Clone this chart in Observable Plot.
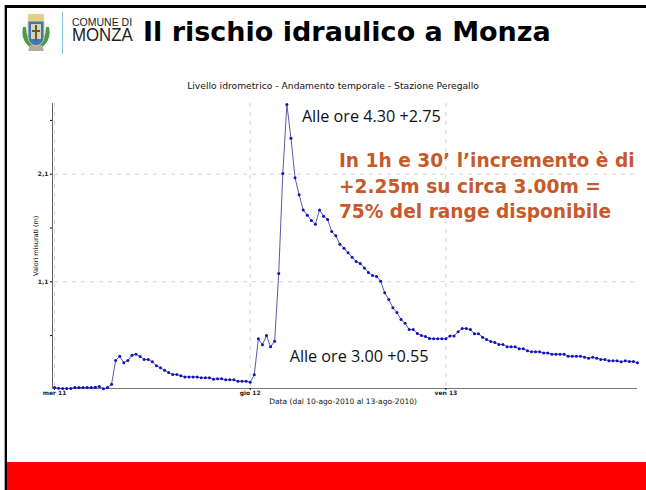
<!DOCTYPE html>
<html><head><meta charset="utf-8">
<script src="https://cdn.jsdelivr.net/npm/d3@7"></script>
<script src="https://cdn.jsdelivr.net/npm/@observablehq/plot@0.6"></script>
<style>
html,body{margin:0;padding:0;background:#fff;overflow:hidden}
#page{position:relative;width:646px;height:490px;overflow:hidden;background:#fff}
#frameT{position:absolute;left:5px;top:5px;right:0;height:3px;background:#000}
#frameL{position:absolute;left:5px;top:5px;bottom:0;width:2px;background:#000;box-shadow:-1px 0 0 #aaa}
#bar{position:absolute;left:7px;right:0;top:462px;bottom:0;background:#ff0000}
#rule{position:absolute;left:62px;top:12px;width:1px;height:42px;background:#7fc4dc}
#title{position:absolute;left:143px;top:16px;font:bold 27px "DejaVu Sans";color:#000;white-space:nowrap}
#c1{position:absolute;left:72px;top:17px;font:10.5px/10px "Liberation Sans";color:#222;white-space:nowrap}
#c2{position:absolute;left:72px;top:27px;font:18.5px/16px "Liberation Sans";color:#222;transform:scaleX(.91);transform-origin:left top;white-space:nowrap}
#logo{position:absolute;left:20px;top:13px}
#chart{position:absolute;left:0;top:0}
</style></head><body>
<div id="page">
<div id="chart"></div>
<div id="frameT"></div><div id="frameL"></div><div id="bar"></div>
<div id="rule"></div>
<svg id="logo" width="32" height="39" viewBox="0 0 32 39">
<path d="M3 14 Q0 29 13 36 L16 33 Q6 27 6 14Z" fill="#4a9a48"/>
<path d="M29 14 Q32 29 19 36 L16 33 Q26 27 26 14Z" fill="#4a9a48"/>
<path d="M10 32 L22 32 L24 38 L8 38Z" fill="#b5a99a"/>
<path d="M8 1 H24 V8 H8Z" fill="#e3cf8a"/>
<path d="M8 8 H24 V24 Q24 31 16 33 Q8 31 8 24Z" fill="#3a78c0" stroke="#e3cf8a"/>
<path d="M11 11 H21 V26 H11Z" fill="#d8d4b8"/>
<path d="M15 12 H17 V28 H15Z M12 17 H20 V19 H12Z" fill="#6a5a28"/>
</svg>
<div id="c1">COMUNE DI</div><div id="c2">MONZA</div>
<div id="title">Il rischio idraulico a Monza</div>
</div>
<script>
const stepMinutes = 30;
const startTime = new Date(Date.UTC(2010, 7, 11, 0, 0));
const levels = [
.117,.111,.108,.108,.108,.117,.117,.117,.117,.117,.120,.127,.105,.117,.148,.368,.408,.347,.368,.418,.427,.405,.378,.378,.356,.319,.300,.278,.257,.238,.238,.226,.216,.216,.216,.216,.207,.207,.207,.195,
.198,.198,.189,.189,.189,.176,.176,.176,.167,.235,.570,.514,.601,.495,.548,1.177,
2.106,2.747,2.435,2.066,1.908,1.768,1.719,1.669,1.635,1.768,1.710,1.679,1.567,1.527,1.449,1.412,
1.369,1.329,1.288,1.270,1.229,1.186,1.158,1.149,1.106,.997,.935,.858,.814,.749,.715,.656,.656,.619,.601,.591,.573,
.570,.570,.570,.570,.597,.597,.635,.666,.666,.656,.616,.616,.585,.563,.545,.536,.517,.517,.495,.495,.495,.477,.477,.458,.449,.449,.449,.439,.439,.427,.427,.427,.427,.408,.408,.408,.408,.399,.390,.399,.390,.378,.378,.365,.365,.365,.356,.365,.359,.359,.347];
const dayTicks = [new Date(Date.UTC(2010,7,11)), new Date(Date.UTC(2010,7,12)), new Date(Date.UTC(2010,7,13))];
const dayLabels = ["mer 11","gio 12","ven 13"];
const yMajor = [1.1, 2.1];
const yMinor = [0.6, 1.6, 2.6];
const series = levels.map((v,i)=>({t:new Date(+startTime + i*stepMinutes*60000), v}));
const at = (day,h,m=0)=>new Date(Date.UTC(2010,7,day,h,m));
const notes = [
 {t:at(12,4,30), v:2.637, text:"Alle ore 4.30 +2.75"},
 {t:at(12,3,0), v:0.398, text:"Alle ore 3.00 +0.55"}
];
const big = ["In 1h e 30’ l’incremento è di","+2.25m su circa 3.00m =","75% del range disponibile"];
const bigV = [2.218, 1.981, 1.744];
const nick = new Map(dayTicks.map((d,i)=>[+d,dayLabels[i]]));
const f = '"DejaVu Sans"';
const plot = Plot.plot({
  width:646, height:490,
  marginLeft:54, marginRight:9, marginTop:103, marginBottom:102,
  style:{background:"transparent"},
  x:{type:"utc", domain:[startTime, series[series.length-1].t]},
  y:{domain:[0.108,2.757]},
  marks:[
    Plot.ruleY(yMajor,{stroke:"#d4d4d4",strokeDasharray:"4,5",strokeWidth:1}),
    Plot.ruleX(dayTicks,{stroke:"#d4d4d4",strokeDasharray:"4,5",strokeWidth:1}),
    Plot.ruleX([startTime],{stroke:"#666",dx:-2,strokeWidth:1}),
    Plot.ruleY([0.108],{stroke:"#777",strokeWidth:1,insetLeft:-2}),
    Plot.axisY({ticks:yMajor,tickFormat:d=>String(d).replace(".",","),tickSize:2,dx:-2,fontSize:6,fontWeight:"bold",fontFamily:f,fill:"#222",label:null,tickPadding:2}),
    Plot.axisY({ticks:yMinor,tickFormat:()=>"",tickSize:2,dx:-2,label:null}),
    Plot.axisX({ticks:dayTicks,tickFormat:d=>nick.get(+d),tickSize:2,fontSize:6,fontWeight:"bold",fontFamily:f,fill:"#222",label:null,tickPadding:0}),
    Plot.line(series,{x:"t",y:"v",stroke:"#5a5aa8",strokeWidth:1}),
    Plot.dot(series,{x:"t",y:"v",r:1.5,fill:"#1010c0"}),
    Plot.text(notes,{x:"t",y:"v",text:"text",textAnchor:"start",fontSize:16.2,fontFamily:'"Open Sans"',fill:"#111",dx:15}),
    Plot.text(big,{x:()=>at(12,11),y:(d,i)=>bigV[i],text:d=>d,textAnchor:"start",fontSize:18.6,fontWeight:"bold",fontFamily:f,fill:"#c55a2c",dx:-1}),
    Plot.text(["Livello idrometrico - Andamento temporale - Stazione Peregallo"],{frameAnchor:"top",dy:-21,dx:-13,fontSize:9.2,fontFamily:f,fill:"#111"}),
    Plot.text(["Data (dal 10-ago-2010 al 13-ago-2010)"],{x:()=>at(12,12),frameAnchor:"bottom",dy:15,dx:-5,fontSize:7.5,fontFamily:f,fill:"#111"}),
    Plot.text(["Valori misurati (m)"],{frameAnchor:"left",rotate:-90,dx:-19,dy:30,fontSize:6.5,fontFamily:f,fill:"#111"})
  ]
});
document.getElementById("chart").appendChild(plot);
</script>
</body></html>
